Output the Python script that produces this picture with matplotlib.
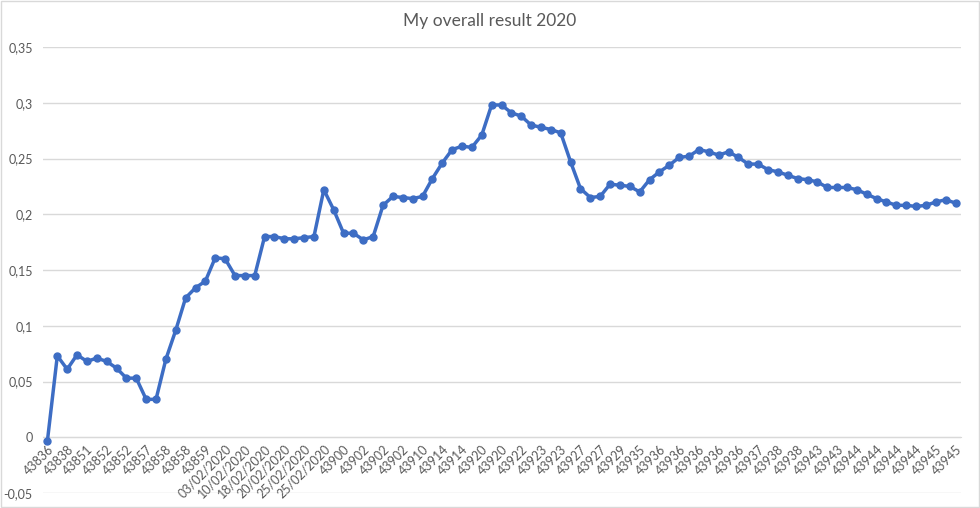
import matplotlib.pyplot as plt
from matplotlib.patches import Rectangle

# === data ===
tick_labels = [
    "43836", "43838", "43851", "43852", "43852", "43857", "43858", "43858",
    "43859", "03/02/2020", "10/02/2020", "18/02/2020", "20/02/2020",
    "25/02/2020", "25/02/2020", "43900", "43902", "43902", "43902", "43910",
    "43914", "43914", "43920", "43920", "43922", "43923", "43923", "43927",
    "43927", "43929", "43935", "43936", "43936", "43936", "43936", "43936",
    "43937", "43938", "43938", "43943", "43943", "43944", "43944", "43944",
    "43944", "43945", "43945",
]

result = [
    -0.003, 0.073, 0.061, 0.074, 0.068, 0.071, 0.068, 0.062, 0.053, 0.053,
    0.034, 0.034, 0.070, 0.096, 0.125, 0.134, 0.140, 0.161, 0.160, 0.145,
    0.145, 0.145, 0.180, 0.180, 0.178, 0.178, 0.179, 0.180, 0.222, 0.204,
    0.183, 0.183, 0.177, 0.180, 0.208, 0.216, 0.215, 0.214, 0.216, 0.232,
    0.246, 0.258, 0.261, 0.260, 0.271, 0.298, 0.298, 0.291, 0.288, 0.280,
    0.278, 0.276, 0.273, 0.247, 0.223, 0.215, 0.216, 0.227, 0.226, 0.225,
    0.220, 0.231, 0.238, 0.244, 0.251, 0.252, 0.258, 0.256, 0.253, 0.256,
    0.251, 0.245, 0.245, 0.240, 0.238, 0.235, 0.232, 0.231, 0.229, 0.224,
    0.224, 0.224, 0.222, 0.218, 0.214, 0.211, 0.208, 0.208, 0.207, 0.208,
    0.211, 0.213, 0.210,
]

y_ticks = [-0.05, 0, 0.05, 0.1, 0.15, 0.2, 0.25, 0.3, 0.35]

# === style ===
plt.rcParams['font.family'] = ['Lato', 'DejaVu Sans']
text_col = '#595959'
grid_col = '#D9D9D9'
line_col = '#3D6DC4'

fig = plt.figure(figsize=(9.8, 5.08), dpi=100)
ax = fig.add_axes([42.5 / 980, 1 - 493 / 508, (960.5 - 42.5) / 980, (493 - 47) / 508])

# axis line (and its labels) sit on the 0 level, like Excel
for s in ['top', 'right', 'left']:
    ax.spines[s].set_visible(False)
ax.spines['bottom'].set_position(('data', 0))
ax.spines['bottom'].set_color(grid_col)

x = list(range(len(result)))
ax.plot(x, result, color=line_col, lw=2.5, marker='o', markersize=5,
        markerfacecolor=line_col, markeredgecolor=line_col, zorder=3, clip_on=False)

ax.set_xlim(-0.5, len(result) - 0.5)
ax.set_ylim(-0.05, 0.35)

ax.set_yticks(y_ticks)
ax.set_yticklabels([f"{v:g}".replace('.', ',') for v in y_ticks])
ax.set_xticks(x[::2])
ax.set_xticklabels(tick_labels, rotation=45, ha='right', va='top',
                   rotation_mode='anchor')

ax.grid(axis='y', color=grid_col, lw=1)
ax.set_axisbelow(True)
ax.tick_params(axis='both', length=0, colors=text_col, labelsize=9)
ax.tick_params(axis='x', pad=4)
ax.tick_params(axis='y', pad=7)

# === title ===
fig.text(0.5, 1 - 21 / 508, "My overall result 2020", ha='center', va='center',
         fontsize=12.5, color=text_col)

# chart border
fig.patches.append(Rectangle((0.001, 0.001), 0.998, 0.997, transform=fig.transFigure,
                             fill=False, edgecolor=grid_col, lw=1))

plt.savefig('out.png', dpi=100, facecolor='white')
